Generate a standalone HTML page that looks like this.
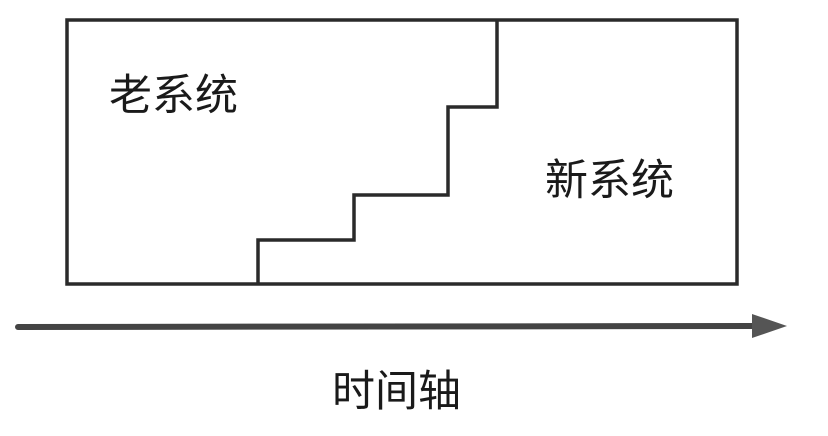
<!DOCTYPE html>
<html><head><meta charset="utf-8"><style>
html,body{margin:0;padding:0;background:#fff;}
svg{display:block;}
text{font-family:"Liberation Sans","Noto Sans CJK SC",sans-serif;font-size:43px;fill:#1a1a1a;}
</style></head><body>
<svg width="828" height="436" viewBox="0 0 828 436">
<rect x="67" y="20" width="670" height="264" fill="none" stroke="#2a2a2a" stroke-width="3.5"/>
<polyline points="258,284 258,240 354,240 354,195 448,195 448,107 497,107 497,20" fill="none" stroke="#2a2a2a" stroke-width="3.5"/>
<line x1="18" y1="327" x2="756" y2="326" stroke="#444" stroke-width="6" stroke-linecap="round"/>
<polygon points="752,314 787,326 752,338" fill="#555"/>
<text x="109" y="110">老系统</text>
<text x="545" y="195">新系统</text>
<text x="332" y="406">时间轴</text>
</svg>
</body></html>
